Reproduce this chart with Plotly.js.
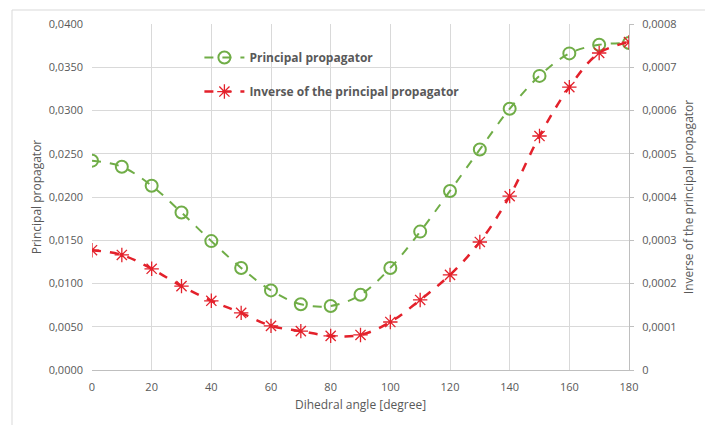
<!DOCTYPE html>
<html>
<head>
<meta charset="utf-8">
<script src="https://cdn.plot.ly/plotly-3.0.1.min.js"></script>
<style>html,body{margin:0;padding:0;background:#fff;}#chart{width:705px;height:425px;}</style>
</head>
<body>
<div id="chart"></div>
<script>
const angles = [0,10,20,30,40,50,60,70,80,90,100,110,120,130,140,150,160,170,180];
const principal = [0.0242,0.0235,0.0213,0.0182,0.0149,0.0118,0.0092,0.0076,0.0074,0.0087,0.0118,0.0160,0.0207,0.0255,0.0302,0.0340,0.0366,0.0376,0.0378];
const inverse = [0.000277,0.000266,0.000234,0.000194,0.000160,0.000132,0.000102,0.000090,0.000079,0.000081,0.000111,0.000162,0.000220,0.000296,0.000402,0.000541,0.000654,0.000733,0.000758];
const leftTicks = [0,0.005,0.01,0.015,0.02,0.025,0.03,0.035,0.04];
const leftTickText = ['0,0000','0,0050','0,0100','0,0150','0,0200','0,0250','0,0300','0,0350','0,0400'];
const rightTicks = [0,0.0001,0.0002,0.0003,0.0004,0.0005,0.0006,0.0007,0.0008];
const rightTickText = ['0','0,0001','0,0002','0,0003','0,0004','0,0005','0,0006','0,0007','0,0008'];

const green = '#70AD47';
const red = '#E3212B';
const fontFam = '"Open Sans", "Liberation Sans", sans-serif';

const traces = [
  {x: angles, y: principal, name: 'Principal propagator', type: 'scatter', mode: 'lines+markers',
   legendgroup: 'a',
   line: {color: green, width: 2, dash: 'dash', shape: 'spline'},
   marker: {symbol: 'circle-open', size: 12, color: green, line: {width: 2, color: green}}},
  {x: angles, y: inverse, name: 'Inverse of the principal propagator', type: 'scatter', mode: 'lines+markers',
   legendgroup: 'b', yaxis: 'y2',
   line: {color: red, width: 2.5, dash: 'dash', shape: 'spline'},
   marker: {symbol: 'asterisk-open', size: 12, color: red, line: {width: 1.3, color: red}}}
];

const x0 = (12-92)/537, y1 = (370-10)/346;
const layout = {
  width: 705, height: 425,
  margin: {l: 92, r: 76, t: 24, b: 55},
  paper_bgcolor: '#fff', plot_bgcolor: '#fff',
  font: {family: fontFam, size: 11, color: '#595959'},
  showlegend: true,
  legend: {x: 0.2, y: 0.945, xanchor: 'left', yanchor: 'top', bgcolor: 'rgba(255,255,255,0)',
           traceorder: 'grouped', tracegroupgap: 15, itemwidth: 40,
           font: {family: fontFam, size: 12, color: '#595959', weight: 'bold'}},
  xaxis: {range: [0, 180], tickvals: [0,20,40,60,80,100,120,140,160,180], showgrid: true,
          gridcolor: '#d9d9d9', zeroline: false, showline: true, linecolor: '#bfbfbf',
          ticks: '', ticklabelstandoff: 7, tickfont: {size: 11, color: '#595959'},
          title: {text: 'Dihedral angle [degree]', font: {size: 12, color: '#595959'}, standoff: 7}},
  yaxis: {range: [0, 0.04], tickvals: leftTicks, ticktext: leftTickText, showgrid: true,
          gridcolor: '#d9d9d9', zeroline: false, showline: false, ticks: '', ticklabelstandoff: 8,
          tickfont: {size: 11, color: '#595959'},
          title: {text: 'Principal propagator', font: {size: 12, color: '#595959'}, standoff: 4}},
  yaxis2: {range: [0, 0.0008], tickvals: rightTicks, ticktext: rightTickText, overlaying: 'y', side: 'right',
           showgrid: false, zeroline: false, showline: true, linecolor: '#bfbfbf', ticks: 'outside',
           ticklen: 4, tickcolor: '#bfbfbf', ticklabelstandoff: 6, tickfont: {size: 11, color: '#595959'},
           title: {text: 'Inverse of the principal propagator', font: {size: 12, color: '#595959'}, standoff: 8}},
  shapes: [{type: 'rect', xref: 'paper', yref: 'paper', x0: x0, x1: 2, y0: -1, y1: y1,
            line: {color: '#d9d9d9', width: 1}, fillcolor: 'rgba(0,0,0,0)', layer: 'below'}]
};
Plotly.newPlot('chart', traces, layout, {displayModeBar: false, staticPlot: true});
</script>
</body>
</html>
